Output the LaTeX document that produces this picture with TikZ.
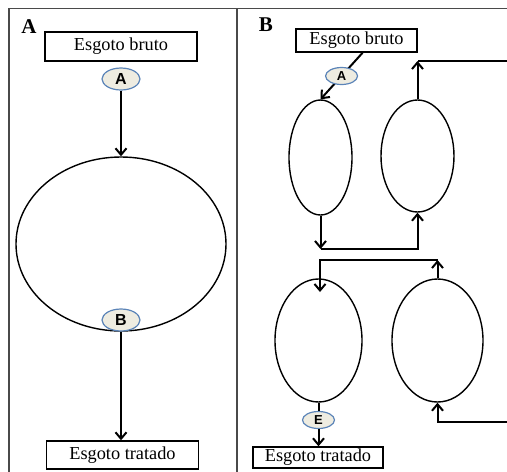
\documentclass[tikz,border=0pt]{standalone}
\usepackage{fontspec}
\setmainfont{Liberation Serif}
\newfontfamily\badgefont{Liberation Sans}
\usetikzlibrary{shapes.geometric,arrows.meta,calc}
\definecolor{badgefill}{HTML}{EEECE1}
\definecolor{badgeline}{HTML}{5B84B8}
\definecolor{framegray}{HTML}{4A4A4A}
\begin{document}
\begin{tikzpicture}[x=1pt,y=-1pt,
  framestyle/.style={draw=framegray, line width=1.1pt},
  panellabel/.style={inner sep=0, font=\fontsize{21}{21}\selectfont\bfseries},
  textbox/.style={draw, line width=1.4pt, inner sep=0, font=\fontsize{18.3}{18.3}\selectfont},
  vessel/.style={ellipse, draw, line width=1.4pt, inner sep=0},
  badge/.style={ellipse, draw=badgeline, fill=badgefill, line width=1.2pt, inner sep=0},
  bigbadge/.style={badge, minimum width=38, minimum height=22, font=\badgefont\fontsize{16}{16}\selectfont\bfseries},
  smallbadge/.style={badge, minimum width=32, minimum height=17, font=\badgefont\fontsize{13}{13}\selectfont\bfseries},
  conn/.style={line width=2pt},
  flow/.style={conn, -{Straight Barb[length=6.5pt,width=11pt,line width=2pt]}}
]
\useasboundingbox (0,0) rectangle (507,472);
% frame
\coordinate (fbl) at (9,472);
\coordinate (ftl) at (9,8.5);
\coordinate (ftr) at (507,8.5);
\coordinate (dtop) at (237,8.5);
\coordinate (dbot) at (237,472);
\draw[framestyle] (fbl) -- (ftl) -- (ftr);
\draw[framestyle] (dtop) -- (dbot);

% ---------- Panel A ----------
\node[panellabel] (labA) at (29,27) {A};
\node[textbox, minimum width=152, minimum height=29] (brutoA) at (121,46.5) {Esgoto bruto};
\node[bigbadge] (bA) at (121,79) {A};
\node[vessel, minimum width=210, minimum height=174] (tankA) at (121,244) {};
\node[textbox, minimum width=152, minimum height=28] (tratA) at (122.5,455) {Esgoto tratado};
\draw[flow] (bA) -- (tankA.north);
\draw[flow] (tankA.south) -- (tankA.south |- tratA.north);
\node[bigbadge] (bB) at (121,320) {B};

% ---------- Panel B ----------
\node[panellabel] (labB) at (266,25) {B};
\node[textbox, minimum width=121, minimum height=23] (brutoB) at (356.5,40.5) {Esgoto bruto};
\node[vessel, minimum width=63, minimum height=115] (r1) at (320.5,157.5) {};
\node[vessel, minimum width=73, minimum height=112] (r2) at (417.5,156) {};
\node[vessel, minimum width=87, minimum height=123] (r3) at (318.5,340.5) {};
\node[vessel, minimum width=91, minimum height=123] (r4) at (437.5,340.5) {};
\node[textbox, minimum width=130, minimum height=21] (tratB) at (318,457.5) {Esgoto tratado};

\coordinate (bout) at ($(brutoB.south west)!0.55!(brutoB.south east)$);
\draw[flow] (bout) -- node[smallbadge] (bA2) {A} (r1.north);

% r1 -> r2
\coordinate (j1) at (320.5,249);
\coordinate (j2) at (417.5,249);
\draw[flow] (r1.south) -- (j1);
\draw[flow] (j1) -- (j2) -- (r2.south);

% r2 -> out (top right)
\coordinate (t1) at (417.5,61);
\coordinate (t2) at (507,61);
\draw[conn] (t2) -- (t1);
\draw[flow] (r2.north) -- (t1);

% r4 -> r3
\coordinate (m1) at (320,260);
\coordinate (m2) at (437.5,260);
\coordinate (in3) at (320,292);
\draw[flow] (r4.north) -- (m2);
\draw[flow] (m2) -- (m1) -- (in3);

% in (bottom right) -> r4
\coordinate (b1) at (507,422);
\coordinate (b2) at (437.5,422);
\draw[flow] (b1) -- (b2) -- (r4.south);

% r3 -> out
\node[smallbadge] (bE) at (318.5,420) {E};
\draw[conn] (r3.south) -- (bE);
\draw[flow] (bE) -- (bE |- tratB.north);
\end{tikzpicture}
\end{document}
